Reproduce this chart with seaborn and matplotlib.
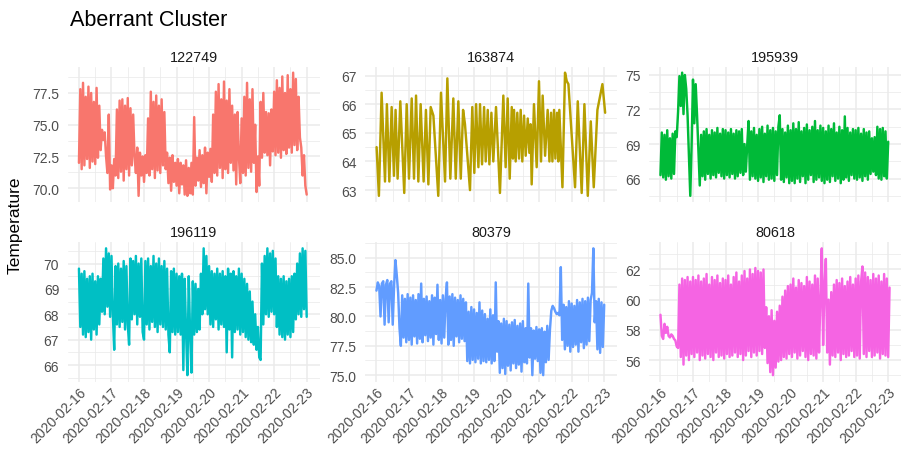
import numpy as np
import pandas as pd
import matplotlib
matplotlib.use("Agg")
import matplotlib.pyplot as plt
import seaborn as sns

# ---------------------------------------------------------------- data
START = "2020-02-16 00:00"

sensor_ids = ["122749", "163874", "195939", "196119", "80379", "80618"]
palette = ["#F8766D", "#B79F00", "#00BA38", "#00BFC4", "#619CFF", "#F564E3"]

# hourly readings from START
temp_122749 = [
    72.0, 77.8, 71.5, 78.3, 71.8, 77.2, 72.3, 78.0, 71.6, 77.5, 72.1, 76.8, 71.9, 77.9, 72.4, 76.5, 73.0, 74.6, 73.8, 74.4, 72.5, 71.2, 75.8, 69.9,
    71.8, 70.0, 72.3, 71.0, 76.2, 70.8, 76.9, 71.3, 77.0, 70.6, 76.5, 71.5, 77.1, 71.0, 76.3, 71.8, 75.8, 72.5, 71.2, 73.2, 69.4, 72.8, 71.0, 72.5,
    70.5, 72.6, 71.2, 75.5, 71.0, 77.6, 71.5, 76.8, 70.8, 77.3, 71.4, 76.5, 71.2, 77.0, 71.8, 76.0, 71.5, 72.8, 70.4, 72.4, 69.8, 72.6, 70.5, 72.0,
    70.2, 72.3, 69.6, 72.0, 70.3, 71.8, 69.5, 72.2, 69.4, 71.6, 69.6, 72.0, 69.5, 75.6, 70.2, 72.4, 70.6, 73.0, 70.1, 72.6, 70.4, 73.2, 69.6, 72.8,
    70.9, 73.1, 70.5, 75.8, 71.2, 77.6, 71.0, 78.2, 71.6, 77.0, 70.8, 78.4, 71.5, 76.9, 71.2, 77.8, 72.0, 76.5, 71.4, 75.8, 70.3, 76.0, 72.5, 70.4,
    75.5, 71.2, 77.2, 71.0, 78.3, 71.6, 77.0, 71.3, 77.8, 72.0, 75.0, 69.7, 72.5, 70.2, 76.8, 72.4, 77.5, 72.8, 76.0, 72.6, 75.9, 71.8, 76.2, 72.9,
    77.6, 72.6, 78.5, 72.8, 77.9, 72.4, 78.8, 73.0, 77.5, 72.7, 78.9, 73.2, 77.8, 72.8, 79.1, 73.4, 78.6, 73.0, 77.2, 74.0, 73.2, 71.0, 72.6, 70.2, 69.5,
]

# irregular readings: hours after START and values
hours_163874 = [
    0.1, 1.8, 3.8, 6.3, 7.7, 9.5, 11.2, 12.9, 14.1, 15.6, 17.6, 20.5, 22.3, 24.0, 26.0, 27.7, 29.2, 30.9, 32.6, 34.8,
    36.5, 38.3, 40.0, 42.0, 45.6, 47.6, 50.6, 52.3, 54.5, 56.7, 58.5, 60.4, 62.2, 63.9, 65.3, 69.0, 70.7, 72.2, 73.5, 75.2,
    76.4, 77.9, 79.4, 80.6, 82.1, 83.3, 84.8, 86.2, 88.2, 91.1, 93.6, 95.3, 96.8, 98.3, 99.8, 100.7, 101.5, 102.7, 103.9, 105.2,
    106.4, 107.6, 108.9, 110.1, 111.6, 112.8, 113.7, 114.5, 116.2, 118.2, 119.9, 121.4, 122.6, 124.4, 126.3, 127.6, 128.8, 129.8, 131.0, 132.0,
    133.2, 134.2, 134.9, 137.2, 139.1, 140.4, 141.6, 146.5, 148.5, 151.4, 153.4, 155.9, 158.1, 160.3, 163.0, 166.7, 168.7,
]
temp_163874 = [
    64.5, 62.8, 66.4, 63.3, 66.0, 63.3, 65.9, 63.5, 65.8, 63.4, 66.1, 62.9, 66.0, 63.4, 66.2, 63.4, 66.3, 63.3, 66.0, 63.3,
    65.8, 63.2, 65.9, 65.6, 62.8, 66.4, 63.3, 66.9, 63.4, 66.2, 63.4, 66.1, 63.4, 65.8, 65.3, 63.0, 65.9, 63.6, 66.0, 63.8,
    66.0, 63.9, 65.9, 64.0, 65.8, 63.9, 65.7, 64.0, 65.9, 62.9, 66.3, 63.8, 66.2, 63.4, 65.9, 64.1, 65.8, 64.0, 65.7, 64.1,
    65.8, 64.0, 65.6, 64.2, 65.5, 64.3, 65.3, 63.2, 66.0, 63.8, 66.8, 64.0, 66.3, 64.2, 65.8, 64.0, 65.7, 64.0, 65.8, 64.1,
    65.7, 64.0, 65.8, 63.1, 67.1, 66.8, 66.7, 63.1, 66.1, 62.9, 66.0, 62.8, 65.4, 63.1, 65.8, 66.7, 65.7,
]

temp_195939 = [
    66.3, 70.0, 66.1, 69.8, 65.9, 70.2, 66.2, 69.5, 66.0, 69.9, 66.4, 70.1, 69.6, 71.8, 74.9, 72.3, 75.2, 71.6, 75.0, 73.8, 71.5, 68.0, 64.5, 69.0,
    74.6, 70.8, 74.2, 71.5, 68.5, 65.4, 69.8, 66.2, 70.1, 65.9, 70.3, 66.4, 69.8, 66.0, 70.2, 66.3, 70.0, 66.1, 70.4, 66.5, 69.9, 66.2, 70.3, 66.0,
    70.2, 66.3, 70.0, 66.1, 70.3, 66.4, 69.9, 66.0, 70.2, 66.2, 70.1, 66.5, 70.3, 66.3, 69.0, 66.6, 68.9, 71.0, 65.9, 70.1, 66.2, 70.4, 66.0, 69.8,
    65.8, 70.3, 66.1, 70.5, 65.7, 69.9, 66.2, 70.6, 65.9, 70.2, 66.0, 70.4, 65.8, 70.1, 66.3, 70.5, 71.5, 65.9, 70.3, 65.7, 70.0, 66.1, 70.6, 65.6,
    70.2, 65.8, 70.8, 65.6, 70.3, 66.0, 70.9, 65.7, 70.1, 66.2, 70.4, 65.6, 70.7, 65.9, 70.2, 66.3, 70.5, 65.7, 71.0, 65.9, 70.2, 66.1, 70.6, 65.8,
    70.4, 65.6, 70.1, 65.9, 70.6, 65.7, 70.3, 66.2, 70.8, 65.8, 70.0, 66.0, 70.5, 65.6, 70.2, 65.9, 71.4, 66.1, 70.4, 65.8, 70.0, 66.3, 70.3, 66.0,
    70.2, 65.9, 70.4, 66.1, 69.9, 65.8, 70.3, 66.2, 70.0, 65.9, 70.1, 66.4, 69.5, 66.6, 69.6, 66.3, 70.5, 66.0, 70.3, 65.9, 70.4, 66.2, 70.1, 66.0, 69.2,
]

temp_196119 = [
    69.8, 67.5, 69.6, 67.2, 69.7, 67.1, 69.4, 67.3, 69.5, 67.0, 69.6, 67.4, 69.3, 67.2, 69.5, 67.6, 69.4, 68.1, 70.2, 68.0, 70.6, 68.3, 70.4, 67.9,
    70.3, 68.0, 66.6, 69.9, 67.6, 70.0, 67.5, 69.8, 67.7, 70.1, 67.4, 69.9, 67.6, 66.8, 70.2, 67.8, 70.1, 68.0, 70.3, 67.6, 70.0, 67.9, 70.2, 67.3,
    67.0, 70.1, 67.6, 70.2, 67.4, 69.9, 67.7, 70.3, 67.5, 70.0, 67.3, 70.2, 67.6, 69.9, 67.5, 70.1, 67.4, 69.8, 67.2, 66.5, 69.7, 67.3, 69.8, 67.2,
    69.6, 67.3, 69.5, 67.2, 69.6, 65.8, 69.4, 67.3, 65.6, 69.5, 67.2, 65.7, 69.3, 67.2, 69.2, 67.3, 69.0, 67.4, 69.6, 68.0, 70.6, 68.2, 70.3, 68.0,
    69.9, 67.6, 69.7, 67.5, 69.6, 67.8, 69.8, 67.4, 69.6, 67.6, 69.7, 67.5, 69.5, 66.5, 69.8, 67.4, 69.6, 66.3, 69.7, 67.3, 69.5, 67.4, 69.8, 67.2,
    69.6, 67.3, 69.4, 67.1, 69.2, 67.0, 68.9, 66.9, 68.5, 66.8, 68.0, 66.6, 67.5, 66.3, 66.2, 70.0, 67.6, 70.3, 68.0, 70.6, 67.9, 70.4, 68.1, 70.5,
    68.0, 70.2, 67.5, 69.5, 67.2, 69.4, 67.1, 69.5, 67.0, 69.3, 67.2, 69.4, 67.1, 69.5, 67.3, 69.6, 67.8, 70.0, 68.0, 70.4, 67.9, 70.6, 68.2, 70.5, 67.9,
]

temp_80379 = [
    82.2, 82.9, 82.6, 80.0, 82.8, 83.0, 79.3, 82.7, 83.1, 79.5, 82.8, 83.0, 79.3, 82.6, 84.8, 83.5, 82.0, 79.0, 77.5, 81.8, 78.2, 81.5, 77.8, 81.9,
    78.0, 81.6, 77.6, 81.8, 78.3, 81.4, 77.7, 81.9, 78.1, 82.8, 77.8, 81.5, 78.4, 81.7, 77.9, 81.3, 78.2, 81.8, 77.6, 81.6, 78.5, 82.7, 78.0, 81.4,
    77.7, 81.8, 78.2, 81.5, 82.9, 77.6, 81.7, 78.0, 81.9, 77.5, 81.6, 78.3, 81.4, 77.8, 81.8, 78.1, 81.5, 77.9, 81.2, 76.2, 80.4, 76.0, 80.8, 76.3,
    80.6, 76.1, 80.3, 76.4, 81.2, 76.0, 80.5, 76.2, 80.2, 76.1, 79.8, 76.3, 80.6, 76.0, 80.1, 76.2, 82.9, 77.0, 79.6, 75.2, 79.4, 75.6, 79.8, 75.1,
    79.6, 75.8, 79.3, 75.4, 79.5, 76.0, 79.7, 75.6, 79.2, 75.9, 79.4, 75.3, 79.6, 76.1, 79.0, 76.0, 82.8, 76.5, 79.0, 75.0, 78.8, 76.4, 79.1, 76.2,
    78.9, 75.2, 79.0, 75.0, 78.7, 76.1, 79.2, 76.3, 78.9, 80.5, 80.9, 80.7, 80.4, 80.2, 80.3, 80.1, 84.2, 78.0, 81.0, 77.2, 80.8, 77.5, 81.3, 77.0,
    81.1, 77.4, 80.9, 77.6, 81.4, 77.0, 81.2, 77.8, 81.5, 77.3, 81.3, 77.6, 81.6, 77.9, 81.4, 82.0, 85.8, 79.5, 81.3, 77.2, 81.5, 76.9, 81.2, 77.4, 81.0,
]

temp_80618 = [
    59.0, 57.6, 57.4, 58.4, 57.8, 58.2, 57.6, 57.5, 57.7, 57.6, 57.4, 57.3, 56.9, 56.8, 61.0, 56.2, 61.4, 55.7, 61.3, 56.3, 61.5, 56.0, 61.2, 56.4,
    61.5, 56.2, 61.3, 56.5, 61.6, 56.0, 61.2, 56.3, 61.4, 56.1, 61.7, 56.4, 61.0, 56.2, 61.5, 56.0, 61.3, 56.5, 61.6, 56.2, 61.1, 56.3, 61.4, 56.1,
    61.3, 56.4, 61.6, 56.2, 61.0, 56.3, 61.5, 56.5, 61.8, 56.2, 61.2, 56.4, 61.6, 56.0, 61.9, 56.3, 61.4, 56.6, 62.0, 56.2, 61.7, 56.5, 62.1, 56.3,
    61.9, 56.6, 61.8, 56.4, 62.0, 56.8, 59.5, 55.8, 58.9, 55.2, 59.3, 55.0, 58.6, 55.5, 59.2, 55.9, 59.6, 56.0, 60.2, 56.2, 60.6, 56.1, 60.9, 56.4,
    61.0, 56.2, 61.4, 56.5, 60.8, 56.1, 61.3, 56.3, 61.1, 56.6, 60.9, 56.2, 61.5, 56.0, 61.2, 56.4, 61.0, 56.3, 61.6, 56.1, 61.4, 56.5, 60.2, 63.4,
    57.0, 61.0, 62.7, 56.5, 60.0, 55.7, 60.5, 56.3, 61.0, 56.2, 61.3, 56.5, 61.1, 56.0, 61.4, 56.4, 60.9, 56.2, 61.2, 56.3, 61.5, 56.6, 61.0, 56.2,
    61.4, 56.3, 61.6, 56.1, 61.2, 62.2, 56.4, 61.8, 56.2, 61.5, 56.6, 61.3, 56.2, 61.7, 56.3, 61.4, 56.5, 61.6, 56.1, 61.2, 56.4, 61.7, 56.3, 61.4, 56.2, 60.8,
]

date_ticks = ["2020-02-16", "2020-02-17", "2020-02-18", "2020-02-19",
              "2020-02-20", "2020-02-21", "2020-02-22", "2020-02-23"]

yticks_122749 = [70.0, 72.5, 75.0, 77.5]
yticks_163874 = [63, 64, 65, 66, 67]
yticks_195939 = [66, 69, 72, 75]
yticks_196119 = [66, 67, 68, 69, 70]
yticks_80379 = [75.0, 77.5, 80.0, 82.5, 85.0]
yticks_80618 = [56, 58, 60, 62]

ylabels_122749 = ["70.0", "72.5", "75.0", "77.5"]
ylabels_163874 = ["63", "64", "65", "66", "67"]
ylabels_195939 = ["66", "69", "72", "75"]
ylabels_196119 = ["66", "67", "68", "69", "70"]
ylabels_80379 = ["75.0", "77.5", "80.0", "82.5", "85.0"]
ylabels_80618 = ["56", "58", "60", "62"]

# ---------------------------------------------------------------- frame
start = pd.Timestamp(START)


def hourly(values):
    return start + pd.to_timedelta(np.arange(len(values)), unit="h")


frames = [
    pd.DataFrame({"time": hourly(temp_122749), "Temperature": temp_122749, "id": "122749"}),
    pd.DataFrame({"time": start + pd.to_timedelta(hours_163874, unit="h"),
                  "Temperature": temp_163874, "id": "163874"}),
    pd.DataFrame({"time": hourly(temp_195939), "Temperature": temp_195939, "id": "195939"}),
    pd.DataFrame({"time": hourly(temp_196119), "Temperature": temp_196119, "id": "196119"}),
    pd.DataFrame({"time": hourly(temp_80379), "Temperature": temp_80379, "id": "80379"}),
    pd.DataFrame({"time": hourly(temp_80618), "Temperature": temp_80618, "id": "80618"}),
]
df = pd.concat(frames, ignore_index=True)

ytick_sets = {
    "122749": (yticks_122749, ylabels_122749),
    "163874": (yticks_163874, ylabels_163874),
    "195939": (yticks_195939, ylabels_195939),
    "196119": (yticks_196119, ylabels_196119),
    "80379": (yticks_80379, ylabels_80379),
    "80618": (yticks_80618, ylabels_80618),
}

# ---------------------------------------------------------------- style
sns.set_style("white")
plt.rcParams["font.family"] = ["Liberation Sans", "DejaVu Sans"]

W, H = 907, 456
fig, axes = plt.subplots(2, 3, figsize=(W / 100, H / 100), dpi=100, sharex=True)

col_left = [67.5, 365.0, 649.0]
col_width = 252.0
row_top = [67.5, 243.0]
row_bottom = [203.0, 382.5]

GRID = "#EBEBEB"
tick_dates = pd.to_datetime(date_ticks)
minor_dates = tick_dates[:-1] + pd.Timedelta(hours=12)

for k, (sid, color) in enumerate(zip(sensor_ids, palette)):
    r, c = divmod(k, 3)
    ax = axes[r, c]
    ax.set_position([col_left[c] / W, 1 - row_bottom[r] / H,
                     col_width / W, (row_bottom[r] - row_top[r]) / H])
    sns.lineplot(data=df[df["id"] == sid], x="time", y="Temperature",
                 color=color, linewidth=1.75, estimator=None, ax=ax)

    ticks, labels = ytick_sets[sid]
    ax.set_yticks(ticks)
    ax.set_yticklabels(labels)
    step = ticks[1] - ticks[0]
    ax.set_yticks([t + step / 2 for t in [ticks[0] - step] + list(ticks)], minor=True)

    ax.set_xlabel("")
    ax.set_ylabel("")
    ax.set_title(sid, fontsize=10.4, color="#1A1A1A", pad=4)
    for s in ax.spines.values():
        s.set_visible(False)
    ax.set_axisbelow(True)
    ax.grid(which="major", color=GRID, linewidth=1.1)
    ax.grid(which="minor", color=GRID, linewidth=0.55)
    ax.tick_params(axis="both", which="both", length=0)
    ax.tick_params(axis="y", labelsize=10, labelcolor="#4D4D4D", pad=6)

for ax in axes[1]:
    ax.set_xticks(tick_dates)
    ax.set_xticks(minor_dates, minor=True)
    ax.set_xticklabels(date_ticks, rotation=45, ha="right", va="top",
                       rotation_mode="anchor", fontsize=10, color="#4D4D4D")
    ax.tick_params(axis="x", pad=2)
for ax in axes[0]:
    ax.tick_params(axis="x", labelbottom=False)

# y limits follow each panel's own data
for ax in axes.flat:
    ax.autoscale(enable=True, axis="y")
    ax.relim()
    ax.autoscale_view(scalex=False, scaley=True)

fig.text(70 / W, 1 - 26 / H, "Aberrant Cluster", fontsize=15.6,
         color="black", ha="left", va="baseline")
fig.text(15 / W, 1 - 225 / H, "Temperature", fontsize=12.5, rotation=90,
         color="black", ha="center", va="center")

fig.savefig("out.png", dpi=100, facecolor="white")
